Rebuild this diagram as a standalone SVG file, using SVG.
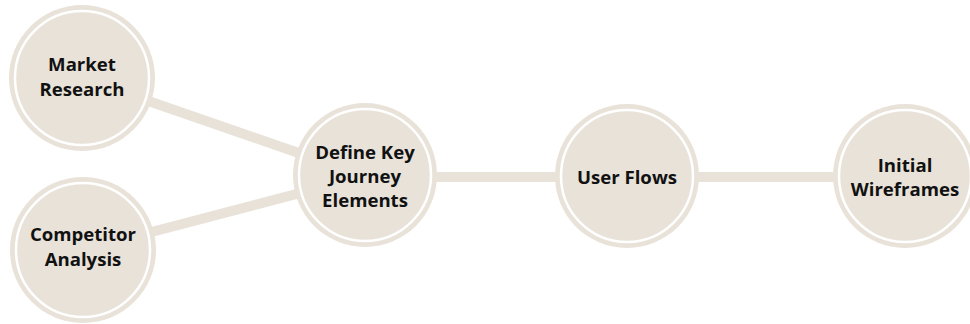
<svg xmlns="http://www.w3.org/2000/svg" width="970" height="324" viewBox="0 0 970 324">
<style>
.outer{fill:#e8e2d9}
.ring{fill:none;stroke:#fff;stroke-width:2.5}
.lbl{font-family:"Open Sans","Liberation Sans",sans-serif;font-weight:700;font-size:18.6px;fill:#111;text-anchor:middle}
.conn{stroke:#e8e2d9;stroke-width:10;fill:none}
</style>
<rect width="970" height="324" fill="#fff"/>
<g id="connectors">
<line class="conn" x1="82" y1="78" x2="365" y2="176"/>
<line class="conn" x1="83" y1="250" x2="365" y2="176"/>
<line class="conn" x1="365" y1="177" x2="905" y2="177"/>
</g>
<g id="market-research">
<circle class="outer" cx="82" cy="78" r="73"/>
<circle class="ring" cx="82" cy="78" r="67"/>
<text class="lbl" x="82" y="71">Market</text>
<text class="lbl" x="82" y="95.5">Research</text>
</g>
<g id="competitor-analysis">
<circle class="outer" cx="83" cy="250" r="73"/>
<circle class="ring" cx="83" cy="250" r="67"/>
<text class="lbl" x="83" y="241">Competitor</text>
<text class="lbl" x="83" y="265.5">Analysis</text>
</g>
<g id="define-key">
<circle class="outer" cx="365" cy="175" r="72"/>
<circle class="ring" cx="365" cy="175" r="66"/>
<text class="lbl" x="365" y="159">Define Key</text>
<text class="lbl" x="365" y="183">Journey</text>
<text class="lbl" x="365" y="207">Elements</text>
</g>
<g id="user-flows">
<circle class="outer" cx="627" cy="176" r="72"/>
<circle class="ring" cx="627" cy="176" r="66"/>
<text class="lbl" x="627" y="184">User Flows</text>
</g>
<g id="initial-wireframes">
<circle class="outer" cx="905" cy="176" r="72"/>
<circle class="ring" cx="905" cy="176" r="66"/>
<text class="lbl" x="905" y="172">Initial</text>
<text class="lbl" x="905" y="196">Wireframes</text>
</g>
</svg>
